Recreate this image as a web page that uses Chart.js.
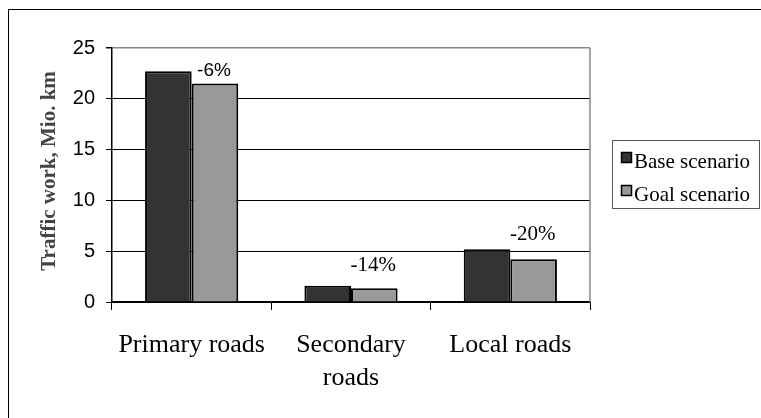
<!DOCTYPE html>
<html>
<head>
<meta charset="utf-8">
<script src="https://cdn.jsdelivr.net/npm/chart.js@4/dist/chart.umd.min.js"></script>
<style>
  html, body { margin: 0; padding: 0; background: #fff; }
  canvas { display: block; }
</style>
</head>
<body>
<canvas id="trafficChart" width="761" height="418"></canvas>
<script>
// road types and traffic work (Mio. km)
const roadTypes = [['Primary roads'], ['Secondary', 'roads'], ['Local roads']];
const baseScenario = [22.7, 1.6, 5.2];
const goalScenario = [21.5, 1.35, 4.2];
// change labels over the goal bars, and the value where each sits
const changeText = ['-6%', '-14%', '-20%'];
const changeAt = [22.8, 3.6, 6.6];
const yTicks = [0, 5, 10, 15, 20, 25];

const serif = '"Liberation Serif", "Times New Roman", serif';
const sans = '"Liberation Sans", Arial, sans-serif';

const extras = {
  id: 'extras',
  afterDraw: function(chart) {
    const ctx = chart.ctx;
    const area = chart.chartArea;
    const y = chart.scales.y;
    ctx.save();

    // outer frame
    ctx.strokeStyle = '#000';
    ctx.lineWidth = 1;
    ctx.strokeRect(8.5, 9.5, 800, 500);

    // right edge of the plot
    ctx.strokeStyle = '#888';
    ctx.lineWidth = 1.5;
    ctx.beginPath();
    ctx.moveTo(area.right, area.top);
    ctx.lineTo(area.right, area.bottom);
    ctx.stroke();

    // y title
    ctx.translate(50, (area.top + area.bottom) / 2 - 4);
    ctx.rotate(-Math.PI / 2);
    ctx.fillStyle = '#444';
    ctx.font = 'bold 21px ' + serif;
    ctx.textAlign = 'center';
    ctx.textBaseline = 'middle';
    ctx.fillText('Traffic work, Mio. km', 0, 0);
    ctx.setTransform(1, 0, 0, 1, 0, 0);

    // change labels
    const goalMeta = chart.getDatasetMeta(1);
    ctx.fillStyle = '#000';
    ctx.textAlign = 'center';
    ctx.textBaseline = 'middle';
    changeText.forEach(function(t, i) {
      ctx.font = i === 0 ? '19px ' + sans : '21px ' + serif;
      ctx.fillText(t, goalMeta.data[i].x - 1, y.getPixelForValue(changeAt[i]));
    });

    // legend
    ctx.strokeStyle = '#555';
    ctx.lineWidth = 1;
    ctx.strokeRect(612.5, 140.5, 147, 68);
    const items = [
      { label: chart.data.datasets[0].label, color: chart.data.datasets[0].backgroundColor, top: 152 },
      { label: chart.data.datasets[1].label, color: chart.data.datasets[1].backgroundColor, top: 185 }
    ];
    items.forEach(function(it) {
      ctx.fillStyle = it.color;
      ctx.fillRect(621, it.top, 11, 11);
      ctx.strokeStyle = '#000';
      ctx.lineWidth = 1.5;
      ctx.strokeRect(621.5, it.top + 0.5, 10, 10);
      ctx.fillStyle = '#000';
      ctx.font = '21px ' + serif;
      ctx.textAlign = 'left';
      ctx.textBaseline = 'alphabetic';
      ctx.fillText(it.label, 634, it.top + 16);
    });
    ctx.restore();
  }
};

new Chart(document.getElementById('trafficChart').getContext('2d'), {
  type: 'bar',
  data: {
    labels: roadTypes,
    datasets: [{
      label: 'Base scenario',
      data: baseScenario,
      backgroundColor: '#333333',
      borderColor: '#000',
      borderWidth: 2
    }, {
      label: 'Goal scenario',
      data: goalScenario,
      backgroundColor: '#999999',
      borderColor: '#000',
      borderWidth: 2
    }]
  },
  options: {
    responsive: false,
    animation: false,
    layout: { padding: { left: 0, top: 48, right: 171, bottom: 0 } },
    plugins: {
      legend: { display: false },
      tooltip: { enabled: false }
    },
    datasets: {
      bar: { categoryPercentage: 0.585, barPercentage: 1 }
    },
    scales: {
      x: {
        grid: { display: true, drawOnChartArea: false, drawTicks: true, tickLength: 8, tickColor: '#000', offset: true },
        border: { display: true, color: '#000', width: 1.5 },
        ticks: {
          color: '#000',
          padding: 19,
          maxRotation: 0,
          font: { family: serif, size: 26, lineHeight: 1.25 }
        },
        afterFit: function(s) { s.height = 116; }
      },
      y: {
        min: 0,
        max: 25,
        afterBuildTicks: function(s) { s.ticks = yTicks.map(function(v) { return { value: v }; }); },
        grid: {
          color: function(c) { return c.tick && c.tick.value === 25 ? '#888' : '#000'; },
          lineWidth: function(c) { return c.tick && c.tick.value === 25 ? 1.5 : 1; },
          tickLength: 6,
          tickColor: '#000'
        },
        border: { display: true, color: '#000', width: 1.5 },
        ticks: {
          color: '#000',
          padding: 11,
          font: { family: sans, size: 20 }
        },
        afterFit: function(s) { s.width = 112; }
      }
    }
  },
  plugins: [extras]
});
</script>
</body>
</html>
